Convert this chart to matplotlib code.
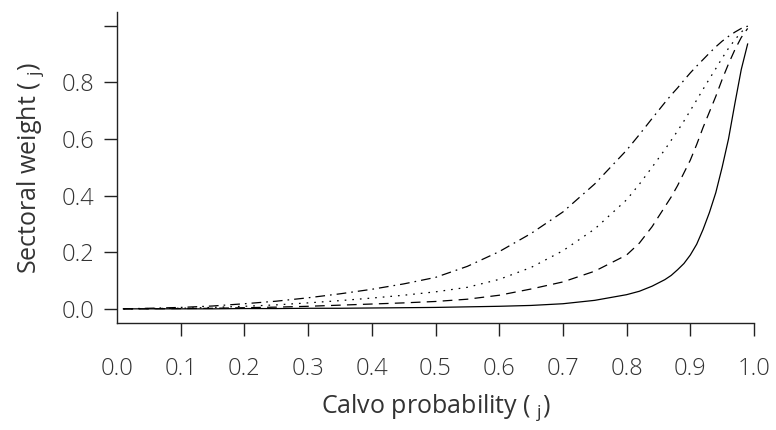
import matplotlib
matplotlib.use("Agg")
import matplotlib.pyplot as plt

theta = [0.01, 0.05, 0.10, 0.15, 0.20, 0.25, 0.30, 0.35, 0.40, 0.45, 0.50, 0.55,
         0.60, 0.65, 0.70, 0.75, 0.80, 0.82, 0.84, 0.86, 0.87, 0.88, 0.89, 0.90,
         0.91, 0.92, 0.93, 0.94, 0.95, 0.96, 0.97, 0.98, 0.99]

w_solid = [0.000, 0.000, 0.000, 0.000, 0.001, 0.001, 0.002, 0.002, 0.003, 0.004, 0.005, 0.007,
           0.009, 0.012, 0.018, 0.030, 0.050, 0.062, 0.080, 0.103, 0.118, 0.138, 0.160, 0.190,
           0.228, 0.280, 0.340, 0.410, 0.500, 0.600, 0.725, 0.845, 0.935]
w_dashed = [0.000, 0.000, 0.001, 0.002, 0.004, 0.006, 0.009, 0.013, 0.017, 0.021, 0.026, 0.034,
            0.048, 0.070, 0.095, 0.133, 0.190, 0.232, 0.290, 0.360, 0.395, 0.435, 0.480, 0.525,
            0.580, 0.640, 0.695, 0.750, 0.810, 0.865, 0.915, 0.958, 0.990]
w_dotted = [0.000, 0.001, 0.002, 0.005, 0.009, 0.014, 0.021, 0.029, 0.038, 0.048, 0.060, 0.076,
            0.104, 0.146, 0.205, 0.282, 0.385, 0.440, 0.500, 0.562, 0.595, 0.628, 0.663, 0.700,
            0.737, 0.775, 0.812, 0.848, 0.885, 0.920, 0.950, 0.977, 0.998]
w_dashdot = [0.000, 0.002, 0.005, 0.010, 0.018, 0.027, 0.039, 0.053, 0.069, 0.088, 0.111, 0.150,
             0.202, 0.266, 0.342, 0.441, 0.560, 0.615, 0.672, 0.728, 0.755, 0.780, 0.807, 0.833,
             0.857, 0.880, 0.903, 0.925, 0.945, 0.962, 0.977, 0.990, 0.998]

x_ticks = [0.0, 0.1, 0.2, 0.3, 0.4, 0.5, 0.6, 0.7, 0.8, 0.9, 1.0]
x_labels = ["0.0", "0.1", "0.2", "0.3", "0.4", "0.5", "0.6", "0.7", "0.8", "0.9", "1.0"]
y_ticks = [0.0, 0.2, 0.4, 0.6, 0.8, 1.0]
y_labels = ["0.0", "0.2", "0.4", "0.6", "0.8", ""]

plt.rcParams['font.family'] = ['Open Sans', 'DejaVu Sans']
plt.rcParams['font.weight'] = 'light'
plt.rcParams['lines.scale_dashes'] = False

fig = plt.figure(figsize=(7.76, 4.30), dpi=100)
ax = fig.add_axes([117/776, 1 - 323/430, (754-117)/776, (323-12)/430])

lw = 0.9
ax.plot(theta, w_solid, color='black', lw=lw, linestyle='-')
ax.plot(theta, w_dashed, color='black', lw=lw, linestyle=(0, (7, 4.5)))
ax.plot(theta, w_dotted, color='black', lw=lw, linestyle=(0, (1.2, 4.3)))
ax.plot(theta, w_dashdot, color='black', lw=lw, linestyle=(0, (7, 3.6, 1.2, 3.6)))

ax.set_xlim(0.0, 1.0)
ax.set_ylim(-0.05, 1.048)

for s in ['top', 'right']:
    ax.spines[s].set_visible(False)
for s in ['left', 'bottom']:
    ax.spines[s].set_linewidth(1.0)
    ax.spines[s].set_color('#222222')

ax.set_xticks(x_ticks)
ax.set_xticklabels(x_labels)
ax.set_yticks(y_ticks)
ax.set_yticklabels(y_labels)
ax.tick_params(axis='x', length=9.5, width=1.0, pad=15, labelsize=17, colors='#222222', labelcolor='#333333')
ax.tick_params(axis='y', length=9.5, width=1.0, pad=7, labelsize=17, colors='#222222', labelcolor='#333333')
ax.xaxis.get_major_ticks()[0].tick1line.set_visible(False)

ax.set_xlabel("Calvo probability ( $_\\mathregular{j}$)", fontsize=18, color='#333333', labelpad=8)
ax.set_ylabel("Sectoral weight ( $_\\mathregular{j}$)", fontsize=18, color='#333333', labelpad=11)

fig.savefig("out.png", dpi=100)
